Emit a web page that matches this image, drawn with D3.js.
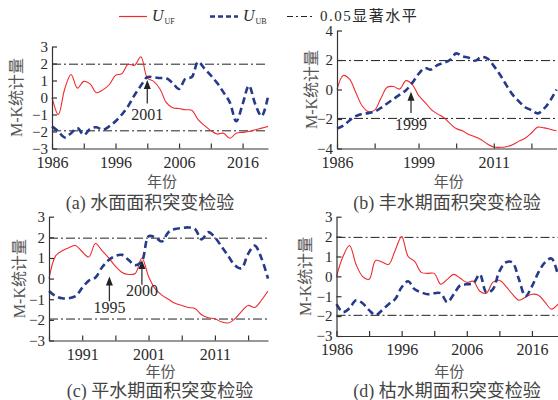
<!DOCTYPE html>
<html>
<head>
<meta charset="utf-8">
<script src="https://cdn.jsdelivr.net/npm/d3@7"></script>
<style>
body { margin: 0; background: #fff; }
svg text { font-family: "Liberation Serif", "Noto Sans CJK SC", serif; fill: #2a2a2a; }
</style>
</head>
<body>
<div id="chart"></div>
<script>
(function() {

    var w = 558;
    var h = 400;

    // years (x categories)
    var years = [1986, 1987, 1988, 1989, 1990, 1991, 1992, 1993, 1994, 1995,
        1996, 1997, 1998, 1999, 2000, 2001, 2002, 2003, 2004, 2005,
        2006, 2007, 2008, 2009, 2010, 2011, 2012, 2013, 2014, 2015,
        2016, 2017, 2018, 2019, 2020, 2021];

    // (a) water surface area
    var ufA = [0.0, -1.0, 0.5, 1.35, 0.55, 0.95, 0.8, 0.28, 0.45, 0.75,
        1.3, 1.4, 1.95, 1.9, 2.4, 1.15, 0.95, 0.5, -0.3, -0.6,
        -0.65, -0.72, -0.75, -1.3, -1.65, -1.95, -2.15, -2.1, -2.4, -2.1,
        -2.05, -2.0, -1.9, -1.8, -1.7];
    var ubA = [-1.7, -2.0, -2.35, -2.1, -1.8, -2.2, -1.85, -1.75, -1.9, -1.7,
        -1.4, -1.0, -0.5, 0.15, 0.7, 1.2, 1.18, 1.15, 1.13, 0.85,
        0.5, 1.1, 1.2, 2.1, 1.7, 1.3, 0.85, 0.3, -0.3, -1.4,
        -0.4, 0.7, -0.4, -1.1, 0.05];

    // (b) high-water period
    var ufB = [0.0, 0.95, 0.7, -0.2, -1.1, -1.5, -1.4, -0.6, 0.15, 0.2,
        0.03, 0.6, 0.35, -0.4, -0.85, -1.35, -1.65, -1.9, -2.3, -2.65,
        -2.8, -3.05, -3.2, -3.4, -3.7, -3.9, -3.92, -3.88, -3.75, -3.5,
        -3.3, -2.95, -2.55, -2.6, -2.7, -2.8];
    var ubB = [-2.65, -2.45, -2.1, -1.8, -1.65, -1.6, -1.5, -1.25, -0.95, -0.65,
        -0.35, -0.05, 0.45, 1.05, 1.45, 1.35, 1.65, 1.8, 2.0, 2.45,
        2.25, 2.15, 1.95, 2.2, 2.1, 1.6, 1.0, 0.3, -0.35, -0.8,
        -1.2, -1.4, -1.62, -1.3, -0.75, 0.0];

    // (c) normal-water period
    var ufC = [0.0, 1.1, 1.35, 1.5, 1.6, 1.3, 1.05, 1.7, 1.35, 1.0,
        0.6, 0.3, 0.2, 0.25, 1.0, 0.1, -0.5, -0.8, -1.0, -1.2,
        -1.3, -1.4, -1.45, -1.75, -1.9, -1.95, -2.1, -2.15, -1.95, -1.6,
        -1.3, -1.4, -1.05, -0.6];
    var ubC = [-0.6, -0.85, -0.95, -0.95, -0.85, -0.45, -0.1, 0.05, 0.55, 0.9,
        1.1, 1.15, 0.9, 0.65, 0.85, 2.05, 2.0, 1.8, 2.25, 2.4,
        2.45, 2.48, 2.4, 1.9, 2.25, 2.0, 1.55, 1.1, 0.65, 0.5,
        1.2, 1.6, 1.0, 0.0];

    // (d) low-water period
    var ufD = [0.0, 1.0, 1.55, 0.6, 0.0, -0.15, 0.8, 0.72, 0.6, 1.3,
        2.0, 1.0, 0.75, 0.2, 0.15, 0.15, -0.4, -0.15, 0.1, -0.1,
        -0.3, -0.25, -0.75, -0.85, -0.3, -0.2, -0.5, -0.9, -1.2, -1.05,
        -0.9, -0.95, -1.3, -1.65, -1.4];
    var ubD = [-1.4, -1.8, -1.6, -1.2, -1.35, -1.7, -1.95, -1.7, -1.4, -1.15,
        -0.55, -0.25, -0.65, -0.8, -0.9, -0.85, -0.85, -1.3, -0.9, -0.45,
        -0.4, -0.35, 0.1, -0.8, -0.65, 0.25, 0.7, 0.7, -0.15, -1.0,
        -0.5, 0.2, 0.7, 0.9, 0.05];

    // ticks and labels
    var xTicks5 = [1986, 1991, 1996, 2001, 2006, 2011, 2016];
    var xTicksB = [1986, 1992, 1999, 2005, 2011, 2017];
    var xLabelsA = [1986, 1996, 2006, 2016];
    var xLabelsB = [1986, 1999, 2011];
    var xLabelsC = [1991, 2001, 2011];
    var yTicks3 = [-3, -2, -1, 0, 1, 2, 3];
    var yTicks4 = [-4, -2, 0, 2, 4];
    var sigLevel = 1.96;

    var titles = ["(a) 水面面积突变检验", "(b) 丰水期面积突变检验",
        "(c) 平水期面积突变检验", "(d) 枯水期面积突变检验"];
    var legendNames = ["UF", "UB"];
    var sigName = "0.05显著水平";

    var red = "#ee2a2f";
    var blue = "#263a8c";

    var panels = [
        { uf: ufA, ub: ubA, xd: [1986, 2020], xr: [52, 268], yd: [-3, 3], yr: [148.5, 46.5],
          ticks: xTicks5, labels: xLabelsA, yt: yTicks3, title: titles[0], cx: 150, ylx: 17,
          xty: 187, tty: 209,
          arrows: [{ x: 2001, tip: 1.03, tail: -0.35, text: "2001", tv: -1.3 }] },
        { uf: ufB, ub: ubB, xd: [1986, 2021], xr: [337, 556.5], yd: [-4, 4], yr: [148.5, 30.5],
          ticks: xTicksB, labels: xLabelsB, yt: yTicks4, title: titles[1], cx: 447, ylx: 312,
          xty: 187, tty: 208.5,
          arrows: [{ x: 1997.8, tip: -0.15, tail: -1.6, text: "1999", tv: -2.75 }] },
        { uf: ufC, ub: ubC, xd: [1986, 2019], xr: [49, 268], yd: [-3, 3], yr: [340.5, 216.7],
          ticks: xTicks5, labels: xLabelsC, yt: yTicks3, title: titles[2], cx: 160, ylx: 20,
          xty: 377, tty: 396.5,
          arrows: [{ x: 1995.1, tip: 0.1, tail: -1.1, text: "1995", tv: -1.67 },
                   { x: 2000, tip: 0.9, tail: -0.3, text: "2000", tv: -0.85 }] },
        { uf: ufD, ub: ubD, xd: [1986, 2020], xr: [336.5, 558], yd: [-3, 3], yr: [336, 216.7],
          ticks: xTicks5, labels: xLabelsA, yt: yTicks3, title: titles[3], cx: 447, ylx: 306,
          xty: 377, tty: 396.5,
          arrows: [] }
    ];

    var svg = d3.select("#chart")
        .append("svg")
        .attr("width", w)
        .attr("height", h);

    function drawPanel(p) {
        var x = d3.scaleLinear().domain(p.xd).range(p.xr);
        var y = d3.scaleLinear().domain(p.yd).range(p.yr);
        var g = svg.append("g");

        // significance lines
        [sigLevel, -sigLevel].forEach(function(v) {
            g.append("line")
                .attr("x1", p.xr[0]).attr("x2", p.xr[1])
                .attr("y1", y(v)).attr("y2", y(v))
                .attr("stroke", "#222")
                .attr("stroke-width", 1)
                .attr("stroke-dasharray", "9,3,2,3");
        });

        var line = d3.line()
            .x(function(d, i) { return x(years[i]); })
            .y(function(d) { return y(d); })
            .curve(d3.curveCatmullRom.alpha(0.5));

        g.append("path")
            .attr("d", line(p.uf))
            .attr("fill", "none")
            .attr("stroke", red)
            .attr("stroke-width", 1.1);

        g.append("path")
            .attr("d", line(p.ub))
            .attr("fill", "none")
            .attr("stroke", blue)
            .attr("stroke-width", 2.6)
            .attr("stroke-dasharray", "7,4");

        // axes
        var xAxis = d3.axisBottom(x)
            .tickValues(p.ticks)
            .tickSizeInner(-5)
            .tickSizeOuter(0)
            .tickPadding(8)
            .tickFormat(function(d) { return p.labels.indexOf(d) >= 0 ? d : ""; });
        var yAxis = d3.axisLeft(y)
            .tickValues(p.yt)
            .tickSizeInner(-5)
            .tickSizeOuter(0)
            .tickPadding(4)
            .tickFormat(d3.format("d"));

        var gx = g.append("g")
            .attr("transform", "translate(0," + p.yr[0] + ")")
            .call(xAxis);
        var gy = g.append("g")
            .attr("transform", "translate(" + p.xr[0] + ",0)")
            .call(yAxis);
        [gx, gy].forEach(function(a) {
            a.selectAll("path, line").attr("stroke", "#333").attr("stroke-width", 1.2);
            a.selectAll("text").attr("font-size", 15).attr("fill", "#2a2a2a")
                .style("font-family", "'Liberation Serif', serif");
        });
        gx.selectAll("text").attr("font-size", 16);

        // arrows
        p.arrows.forEach(function(a) {
            var ax = x(a.x);
            var tipY = y(a.tip);
            g.append("line")
                .attr("x1", ax).attr("x2", ax)
                .attr("y1", y(a.tail)).attr("y2", tipY + 7)
                .attr("stroke", "#333").attr("stroke-width", 1.3);
            g.append("path")
                .attr("d", "M" + ax + "," + tipY + "L" + (ax - 3.5) + "," + (tipY + 9) +
                    "L" + (ax + 3.5) + "," + (tipY + 9) + "Z")
                .attr("fill", "#222");
            g.append("text")
                .attr("x", ax).attr("y", y(a.tv))
                .attr("text-anchor", "middle")
                .attr("font-size", 16)
                .text(a.text);
        });

        // labels
        var ymid = (p.yr[0] + p.yr[1]) / 2;
        g.append("text")
            .attr("transform", "translate(" + (p.ylx + 5) + "," + ymid + ") rotate(-90)")
            .attr("text-anchor", "middle")
            .attr("font-size", 16)
            .style("fill", "#555")
            .text("M-K统计量");

        var xmid = (p.xr[0] + p.xr[1]) / 2;
        g.append("text")
            .attr("x", xmid + 2).attr("y", p.xty)
            .attr("text-anchor", "middle")
            .attr("font-size", 15)
            .style("fill", "#555")
            .text("年份");

        g.append("text")
            .attr("x", p.cx).attr("y", p.tty)
            .attr("text-anchor", "middle")
            .attr("font-size", 18)
            .style("fill", "#444")
            .text(p.title);
    }

    panels.forEach(drawPanel);

    // legend
    var lg = svg.append("g");
    var items = [
        { x: 119, stroke: red, width: 1.2, dash: null, name: legendNames[0] },
        { x: 210, stroke: blue, width: 2.4, dash: "5,3", name: legendNames[1] }
    ];
    items.forEach(function(it) {
        lg.append("line")
            .attr("x1", it.x).attr("x2", it.x + 28)
            .attr("y1", 16.5).attr("y2", 16.5)
            .attr("stroke", it.stroke)
            .attr("stroke-width", it.width)
            .attr("stroke-dasharray", it.dash);
        var t = lg.append("text")
            .attr("x", it.x + 33).attr("y", 21)
            .attr("font-size", 16);
        t.append("tspan").attr("font-style", "italic").text("U");
        t.append("tspan").attr("font-size", 8).attr("dy", 3).attr("dx", 1).text(it.name);
    });
    lg.append("line")
        .attr("x1", 287).attr("x2", 314)
        .attr("y1", 16.5).attr("y2", 16.5)
        .attr("stroke", "#222")
        .attr("stroke-width", 1)
        .attr("stroke-dasharray", "6,3,2,3");
    lg.append("text")
        .attr("x", 320).attr("y", 21)
        .attr("font-size", 15)
        .attr("letter-spacing", 1.5)
        .text(sigName);

})();
</script>
</body>
</html>
